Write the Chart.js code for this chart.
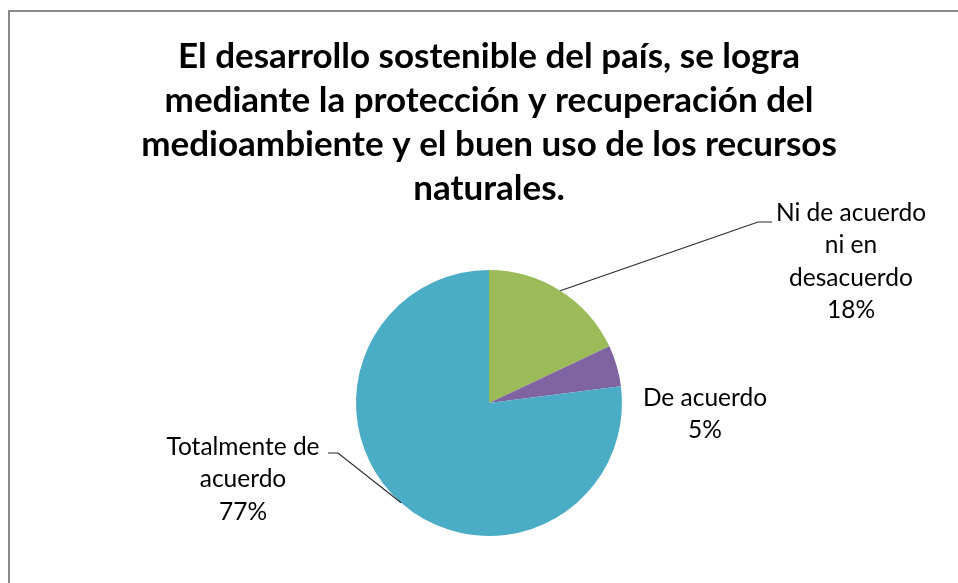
<!DOCTYPE html>
<html><head><meta charset="utf-8">
<script src="https://cdn.jsdelivr.net/npm/chart.js@4"></script>
<style>
html,body{margin:0;padding:0;background:#fff;overflow:hidden;width:958px;height:583px}
#frame{position:absolute;left:8px;top:10px;width:2000px;height:2000px;border:2px solid #8a8a8a;box-sizing:border-box}
#wrap{position:absolute;left:0;top:0;width:958px;height:583px}
</style></head><body>
<div id="frame"></div>
<div id="wrap"><canvas id="c" width="958" height="583"></canvas></div>
<script>
// ---- data ----
const categories = ["Ni de acuerdo ni en desacuerdo", "De acuerdo", "Totalmente de acuerdo"];
const categoryLabelLines = [["Ni de acuerdo", "ni en", "desacuerdo"], ["De acuerdo"], ["Totalmente de", "acuerdo"]];
const percentages = [18, 5, 77];
const titleLines = [
  "El desarrollo sostenible del país, se logra",
  "mediante la protección y recuperación del",
  "medioambiente y el buen uso de los recursos",
  "naturales."
];
const sliceColors = ["#9BBB59", "#8064A2", "#4BACC6"];

// ---- label layout (offsets from pie centre, px) ----
const labelLayout = [
  { dx: 362, dy: -190, leader: [[269, -181], [283, -181]] },
  { dx: 216, dy: -5, leader: null },
  { dx: -246, dy: 44, leader: [[-151, 50], [-161, 50]] }
];
const labelFont = "24.5px Lato";
const labelLineHeight = 32.5;

const labelPlugin = {
  id: "pieLabels",
  afterDatasetsDraw(chart) {
    const ctx = chart.ctx;
    const meta = chart.getDatasetMeta(0);
    meta.data.forEach((arc, i) => {
      const p = arc.getProps(["x", "y", "startAngle", "endAngle", "outerRadius"], true);
      const mid = (p.startAngle + p.endAngle) / 2;
      const lay = labelLayout[i];
      ctx.save();
      if (lay.leader) {
        ctx.strokeStyle = "#2b2b2b";
        ctx.lineWidth = 1.2;
        ctx.beginPath();
        ctx.moveTo(p.x + Math.cos(mid) * p.outerRadius, p.y + Math.sin(mid) * p.outerRadius);
        lay.leader.forEach(pt => ctx.lineTo(p.x + pt[0], p.y + pt[1]));
        ctx.stroke();
      }
      ctx.fillStyle = "#000";
      ctx.font = labelFont;
      ctx.textAlign = "center";
      ctx.textBaseline = "middle";
      const lines = categoryLabelLines[i].concat([percentages[i] + "%"]);
      lines.forEach((t, k) => ctx.fillText(t, p.x + lay.dx, p.y + lay.dy + k * labelLineHeight));
      ctx.restore();
    });
  }
};

new Chart(document.getElementById("c"), {
  type: "pie",
  data: {
    labels: categories,
    datasets: [{ data: percentages, backgroundColor: sliceColors, borderWidth: 0 }]
  },
  options: {
    responsive: false,
    animation: false,
    devicePixelRatio: 1,
    layout: { padding: { left: 20, right: 0, top: 0, bottom: 47 } },
    plugins: {
      legend: { display: false },
      tooltip: { enabled: false },
      title: {
        display: true,
        text: titleLines,
        color: "#000",
        font: { family: "Lato", weight: "bold", size: 35, lineHeight: "44px" },
        padding: { top: 35, bottom: 59 }
      }
    }
  },
  plugins: [labelPlugin]
});
</script>
</body></html>
